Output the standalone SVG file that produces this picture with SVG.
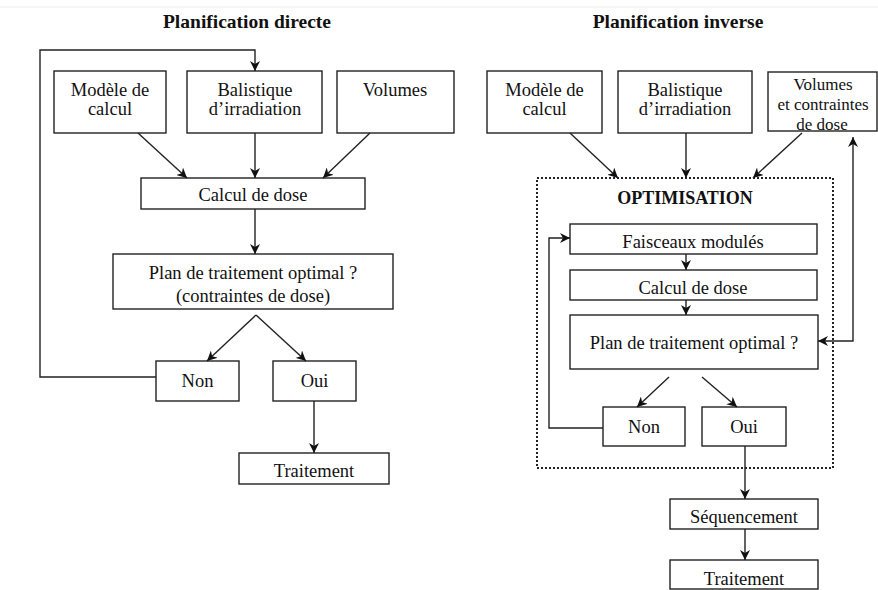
<svg xmlns="http://www.w3.org/2000/svg" width="878" height="590" viewBox="0 0 878 590">
<style>
.box{fill:#fff;stroke:#222;stroke-width:1.4}
.t{font-family:"Liberation Serif","Times New Roman",serif;font-size:18.5px;fill:#111;text-anchor:middle}
.b{font-weight:bold}
.h{font-size:19.5px}
.o{font-size:18px}
.s{font-size:17px}
.c{fill:none;stroke:#222;stroke-width:1.4}
.dot{fill:none;stroke:#222;stroke-width:2;stroke-dasharray:2 2}
</style>
<defs>
<marker id="ah" viewBox="0 0 10 10" refX="10" refY="5" markerWidth="10" markerHeight="10" orient="auto-start-reverse" markerUnits="userSpaceOnUse">
<path d="M0,0 L10,5 L0,10 L3,5 z" fill="#111"/>
</marker>
</defs>
<rect width="878" height="590" fill="#fff"/>
<line x1="0" y1="7" x2="878" y2="7" stroke="#ececec" stroke-width="1"/>

<text class="t b h" x="247" y="28">Planification directe</text>
<text class="t b h" x="678" y="28">Planification inverse</text>

<g id="left-modele"><rect class="box" x="54" y="71" width="112" height="62"/><text class="t" x="110" y="96">Modèle de</text><text class="t" x="110" y="115">calcul</text></g>
<g id="left-balistique"><rect class="box" x="187" y="71" width="135" height="62"/><text class="t" x="255" y="96">Balistique</text><text class="t" x="255" y="115">d’irradiation</text></g>
<g id="left-volumes"><rect class="box" x="337" y="71" width="117" height="62"/><text class="t" x="395" y="96">Volumes</text></g>
<g id="left-calcul"><rect class="box" x="141" y="178" width="224" height="31"/><text class="t" x="253" y="201">Calcul de dose</text></g>
<g id="left-plan"><rect class="box" x="113" y="254" width="280" height="55"/><text class="t" x="253" y="279">Plan de traitement optimal ?</text><text class="t" x="253" y="302">(contraintes de dose)</text></g>
<g id="left-non"><rect class="box" x="156" y="361" width="83" height="40"/><text class="t" x="197.5" y="387">Non</text></g>
<g id="left-oui"><rect class="box" x="273" y="361" width="83" height="40"/><text class="t" x="314.5" y="387">Oui</text></g>
<g id="left-traitement"><rect class="box" x="239" y="453" width="150" height="31"/><text class="t" x="314" y="477">Traitement</text></g>

<g id="right-modele"><rect class="box" x="487" y="71" width="115" height="62"/><text class="t" x="544.5" y="96">Modèle de</text><text class="t" x="544.5" y="115">calcul</text></g>
<g id="right-balistique"><rect class="box" x="618" y="71" width="134" height="62"/><text class="t" x="685" y="96">Balistique</text><text class="t" x="685" y="115">d’irradiation</text></g>
<g id="right-volumes"><rect class="box" x="768" y="72" width="109" height="59"/><text class="t s" x="823" y="90">Volumes</text><text class="t s" x="823" y="110">et contraintes</text><text class="t s" x="822" y="130">de dose</text></g>
<g id="optimisation"><rect class="dot" x="537" y="178" width="296" height="290"/><text class="t b o" x="685" y="204">OPTIMISATION</text></g>
<g id="right-faisceaux"><rect class="box" x="570" y="224" width="247" height="30"/><text class="t" x="693" y="248">Faisceaux modulés</text></g>
<g id="right-calcul"><rect class="box" x="570" y="270" width="247" height="30"/><text class="t" x="693" y="294">Calcul de dose</text></g>
<g id="right-plan"><rect class="box" x="570" y="315" width="248" height="54"/><text class="t" x="694" y="349">Plan de traitement optimal ?</text></g>
<g id="right-non"><rect class="box" x="603" y="407" width="82" height="39"/><text class="t" x="644" y="433">Non</text></g>
<g id="right-oui"><rect class="box" x="702" y="407" width="84" height="39"/><text class="t" x="744" y="433">Oui</text></g>
<g id="right-sequencement"><rect class="box" x="670" y="499" width="148" height="30"/><text class="t" x="744" y="523">Séquencement</text></g>
<g id="right-traitement"><rect class="box" x="670" y="560" width="148" height="29"/><text class="t" x="744" y="585">Traitement</text></g>

<g id="connectors">
<line class="c" x1="138" y1="133" x2="187" y2="178" marker-end="url(#ah)"/>
<line class="c" x1="255" y1="133" x2="255" y2="178" marker-end="url(#ah)"/>
<line class="c" x1="370" y1="133" x2="323" y2="178" marker-end="url(#ah)"/>
<line class="c" x1="255" y1="209" x2="255" y2="254" marker-end="url(#ah)"/>
<line class="c" x1="256" y1="315" x2="207" y2="361" marker-end="url(#ah)"/>
<line class="c" x1="256" y1="315" x2="306" y2="361" marker-end="url(#ah)"/>
<line class="c" x1="314" y1="401" x2="314" y2="453" marker-end="url(#ah)"/>
<polyline class="c" points="156,377 40,377 40,50 255,50 255,71" marker-end="url(#ah)"/>

<line class="c" x1="570" y1="133" x2="618" y2="178" marker-end="url(#ah)"/>
<line class="c" x1="686" y1="133" x2="686" y2="178" marker-end="url(#ah)"/>
<line class="c" x1="802" y1="133" x2="753" y2="178" marker-end="url(#ah)"/>
<line class="c" x1="686" y1="254" x2="686" y2="270" marker-end="url(#ah)"/>
<line class="c" x1="686" y1="300" x2="686" y2="315" marker-end="url(#ah)"/>
<line class="c" x1="669" y1="377" x2="637" y2="407" marker-end="url(#ah)"/>
<line class="c" x1="702" y1="377" x2="737" y2="407" marker-end="url(#ah)"/>
<polyline class="c" points="603,428 549,428 549,238 570,238" marker-end="url(#ah)"/>
<polyline class="c" points="818,341 853,341 853,137" marker-start="url(#ah)" marker-end="url(#ah)"/>
<line class="c" x1="745" y1="446" x2="745" y2="499" marker-end="url(#ah)"/>
<line class="c" x1="745" y1="529" x2="745" y2="560" marker-end="url(#ah)"/>
</g>
</svg>
